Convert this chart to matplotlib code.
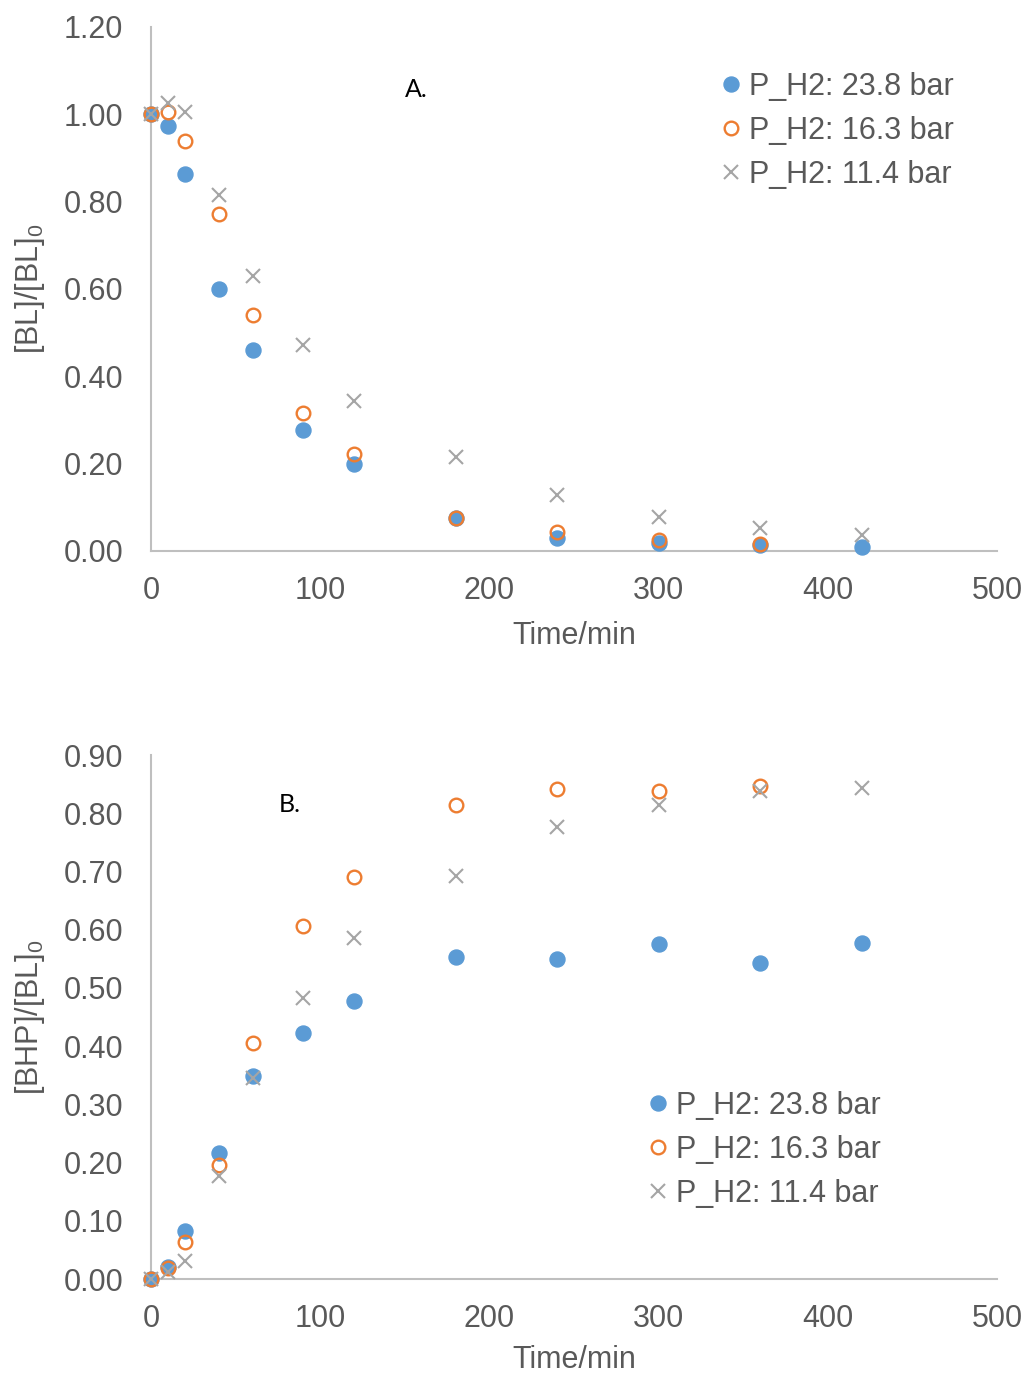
import matplotlib

matplotlib.use("Agg")
import matplotlib.pyplot as plt

plt.rcParams["font.family"] = ["Liberation Sans", "DejaVu Sans"]
plt.rcParams["mathtext.fontset"] = "custom"
plt.rcParams["mathtext.rm"] = "Liberation Sans"

time_a = [0, 10, 20, 40, 60, 90, 120, 180, 240, 300, 360, 420]
bl_238 = [1.00, 0.973, 0.863, 0.600, 0.460, 0.277, 0.199, 0.076, 0.030, 0.018, 0.014, 0.010]
time_163 = [0, 10, 20, 40, 60, 90, 120, 180, 240, 300, 360]
bl_163 = [1.00, 1.005, 0.939, 0.772, 0.540, 0.316, 0.222, 0.076, 0.044, 0.025, 0.015]
bl_114 = [1.00, 1.026, 1.005, 0.815, 0.630, 0.472, 0.343, 0.215, 0.128, 0.078, 0.053, 0.037]

bhp_238 = [0.0, 0.021, 0.082, 0.216, 0.349, 0.423, 0.477, 0.553, 0.550, 0.575, 0.543, 0.577]
bhp_163 = [0.0, 0.019, 0.064, 0.196, 0.405, 0.606, 0.690, 0.814, 0.842, 0.838, 0.847]
bhp_114 = [0.0, 0.012, 0.031, 0.177, 0.345, 0.483, 0.586, 0.692, 0.776, 0.814, 0.838, 0.843]

labels = ["P_H2: 23.8 bar", "P_H2: 16.3 bar", "P_H2: 11.4 bar"]
BLUE, ORANGE, GREY = "#5B9BD5", "#ED7D31", "#A5A5A5"
TXT = "#595959"
FS = 22

fig = plt.figure(figsize=(10.28, 13.75), dpi=100)
ax_a = fig.add_axes([0.1469, 0.5993, 0.8229, 0.3811])
ax_b = fig.add_axes([0.1469, 0.0698, 0.8229, 0.3811])


def draw(ax, y1, y2, y3, ymax, ystep, ylabel, xpad):
    ax.plot(time_a, y1, "o", ms=10.8, color=BLUE, mec=BLUE, label=labels[0], zorder=3)
    ax.plot(time_163, y2, "o", ms=9.8, mfc="none", mec=ORANGE, mew=1.7,
            label=labels[1], zorder=4)
    ax.plot(time_a, y3, "x", ms=10, color=GREY, mew=1.5, label=labels[2], zorder=5)
    ax.set_xlim(0, 500)
    ax.set_ylim(0, ymax)
    ax.set_xticks(range(0, 501, 100))
    n = int(round(ymax / ystep))
    ax.set_yticks([i * ystep for i in range(n + 1)])
    ax.set_yticklabels([f"{i * ystep:.2f}" for i in range(n + 1)])
    for s in ("top", "right"):
        ax.spines[s].set_visible(False)
    for s in ("left", "bottom"):
        ax.spines[s].set_color("#BFBFBF")
        ax.spines[s].set_linewidth(1.5)
    ax.tick_params(length=0, labelsize=FS, colors=TXT)
    ax.tick_params(axis="x", pad=18)
    ax.tick_params(axis="y", pad=20)
    ax.set_xlabel("Time/min", fontsize=FS, color=TXT, labelpad=xpad)
    ax.set_ylabel(ylabel, fontsize=FS, color=TXT, labelpad=12)
    for ln in ax.lines:
        ln.set_clip_on(False)


draw(ax_a, bl_238, bl_163, bl_114, 1.20, 0.20, r"[BL]/[BL]$_\mathregular{0}$", 11)
draw(ax_b, bhp_238, bhp_163, bhp_114, 0.90, 0.10, r"[BHP]/[BL]$_\mathregular{0}$", 8)

ax_a.text(0.300, 0.88, "A.", transform=ax_a.transAxes, fontsize=18, color="black",
          family=["Lato", "Liberation Sans"], va="center")
ax_b.text(0.151, 0.906, "B.", transform=ax_b.transAxes, fontsize=18, color="black",
          family=["Lato", "Liberation Sans"], va="center")

leg_kw = dict(frameon=False, fontsize=FS, handlelength=0.6, handletextpad=0.3,
              labelspacing=0.46, markerscale=1.0, labelcolor=TXT,
              bbox_transform=fig.transFigure, loc="upper left")
ax_a.legend(bbox_to_anchor=(0.6755, 0.968), **leg_kw)
ax_b.legend(bbox_to_anchor=(0.604, 0.2269), **leg_kw)

fig.savefig("out.png", dpi=100)
